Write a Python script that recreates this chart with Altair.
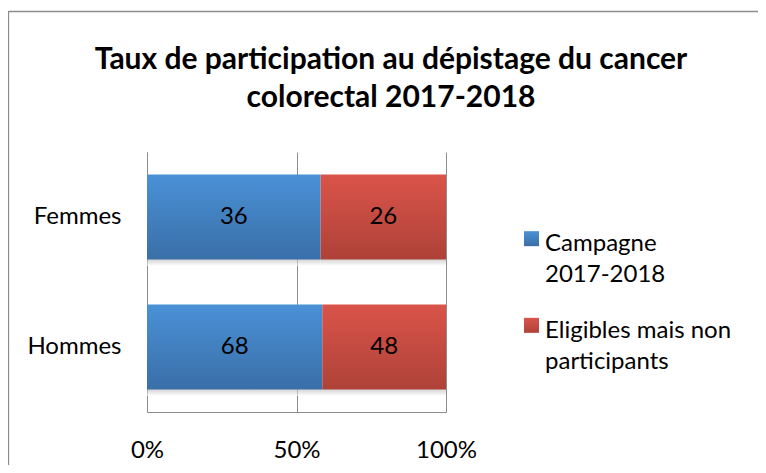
import altair as alt
import pandas as pd

# ---- data ----
categories = ["Femmes", "Hommes"]
series = ["Campagne 2017-2018", "Eligibles mais non participants"]
campagne = [36, 68]
eligibles = [26, 48]
x_ticks = [0, 0.5, 1]
title_lines = ["Taux de participation au dépistage du cancer", "colorectal 2017-2018"]
legend_lines = [["Campagne", "2017-2018"], ["Eligibles mais non", "participants"]]

rows = []
for i, c in enumerate(categories):
    rows.append({"categorie": c, "serie": series[0], "valeur": campagne[i], "ordre": 0})
    rows.append({"categorie": c, "serie": series[1], "valeur": eligibles[i], "ordre": 1})
df = pd.DataFrame(rows)

FONT = "Lato"
GREY = "#8c8c8c"


def grad(top, bottom):
    return alt.LinearGradient(
        gradient="linear", x1=0, x2=0, y1=0, y2=1,
        stops=[alt.GradientStop(color=top, offset=0), alt.GradientStop(color=bottom, offset=1)],
    )


BLUE = grad("#4A91D6", "#3A6FA8")
RED = grad("#DA544A", "#AE4238")
SHADOW = grad("#a8a8a8", "#ffffff")
is_blue = alt.datum.serie == series[0]

base = alt.Chart(df).transform_stack(
    stack="valeur", groupby=["categorie"], sort=[alt.SortField("ordre")],
    as_=["x0", "x1"], offset="normalize",
).transform_calculate(mid="(datum.x0 + datum.x1) / 2")

yscale = alt.Scale(paddingInner=0.346, paddingOuter=0.173)
yenc = alt.Y(
    "categorie:N", sort=categories, title=None, scale=yscale,
    axis=alt.Axis(ticks=False, tickSize=0, labelPadding=26, labelFontSize=24, labelFont=FONT,
                  labelColor="#000", domainColor=GREY, grid=False),
)
xenc = alt.X("x0:Q", scale=alt.Scale(domain=[0, 1], nice=False),
             axis=alt.Axis(values=x_ticks, format="%", grid=True, gridColor=GREY, domainColor=GREY,
                           ticks=False, tickSize=0, labelPadding=26, labelFontSize=24, labelFont=FONT,
                           labelColor="#000", title=None, labelOverlap=False, labelFlush=False))

shadow = base.mark_bar(yOffset=45, height=8, opacity=0.6).encode(
    x=xenc, x2="x1:Q", y=yenc, color=alt.value(SHADOW),
)

bars = base.mark_bar().encode(
    x=xenc,
    x2="x1:Q",
    y=yenc,
    color=alt.condition(is_blue, alt.value(BLUE), alt.value(RED)),
)

labels = base.mark_text(font=FONT, fontSize=24, color="#000").encode(
    x="mid:Q",
    y=alt.Y("categorie:N", sort=categories),
    text="valeur:Q",
)

leg_df = pd.DataFrame({"serie": series, "texte": ["\n".join(l) for l in legend_lines]})
leg_y = alt.Y("serie:N", sort=series, axis=None, scale=alt.Scale(type="point", padding=1.01))
leg_sym = alt.Chart(leg_df).mark_square(size=225, opacity=1).encode(
    x=alt.value(384.5), y=leg_y,
    color=alt.condition(is_blue, alt.value(BLUE), alt.value(RED)),
)
leg_txt = alt.Chart(leg_df).mark_text(
    align="left", baseline="alphabetic", dy=12.5, lineBreak="\n", lineHeight=31,
    font=FONT, fontSize=24, color="#000",
).encode(x=alt.value(398), y=leg_y, text="texte:N")

title = alt.Chart(alt.Data(values=[{"t": "\n".join(title_lines)}])).mark_text(
    align="center", baseline="alphabetic", lineBreak="\n", lineHeight=38,
    font=FONT, fontSize=30, fontWeight="bold", color="#000",
).encode(x=alt.value(244), y=alt.value(-83), text="t:N")

dummy = alt.Data(values=[{"a": 1}])
border_top = alt.Chart(dummy).mark_rule(color=GREY, strokeWidth=1.3).encode(
    x=alt.value(-138.5), x2=alt.value(640), y=alt.value(-140.5))
border_left = alt.Chart(dummy).mark_rule(color=GREY, strokeWidth=1.3).encode(
    x=alt.value(-138.5), y=alt.value(-141), y2=alt.value(340))

main = alt.layer(shadow, bars, labels)
legend = alt.layer(leg_sym, leg_txt)

chart = alt.layer(border_top, border_left, main, legend, title).resolve_scale(
    y="independent"
).properties(
    width=299, height=260,
    padding={"left": 139, "top": 144, "right": 312, "bottom": 53},
    autosize=alt.AutoSizeParams(type="none"),
).configure_view(stroke=None)

chart.save("out.html", embed_options={"renderer": "svg", "actions": False})
